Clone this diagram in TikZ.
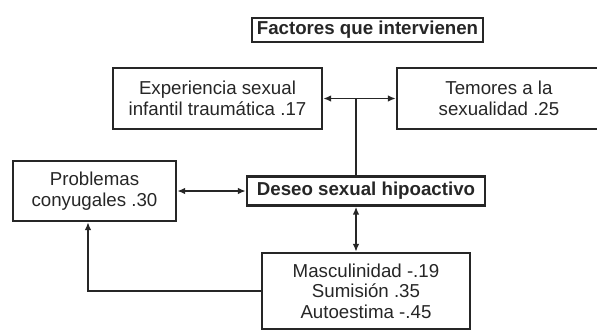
\documentclass[tikz,border=0pt]{standalone}
\usepackage{fontspec}
\setmainfont{Liberation Sans}
\usetikzlibrary{arrows.meta}
\begin{document}
\begin{tikzpicture}[x=1pt,y=-1pt,
  box/.style={draw=black!85,line width=2.3pt,inner sep=0pt,align=center,
    font=\fontsize{18.7}{21.5}\selectfont,text=black!85},
  conn/.style={draw=black!85,line width=1.6pt},
  tip/.style={-{Latex[length=8pt,width=6.5pt]}},
  tips/.style={{Latex[length=8pt,width=6.5pt]}-{Latex[length=8pt,width=6.5pt]}}]
\useasboundingbox (0,0) rectangle (597,330);
\node[box,line width=2.6pt,minimum width=231pt,minimum height=24pt,font=\fontsize{18.7}{21.5}\selectfont\bfseries] (title) at (367.5,30) {Factores que intervienen};
\node[box,minimum width=209pt,minimum height=61pt] (exp) at (217.5,98.5) {Experiencia sexual\\infantil traumática .17};
\node[box,minimum width=204pt,minimum height=61pt] (tem) at (499,98.5) {Temores a la\\sexualidad .25};
\node[box,minimum width=163pt,minimum height=60pt] (prob) at (94.5,191) {Problemas\\conyugales .30};
\node[box,minimum width=238pt,minimum height=29pt,font=\fontsize{18.7}{21.5}\selectfont\bfseries] (deseo) at (366,191) {Deseo sexual hipoactivo};
\node[box,minimum width=208pt,minimum height=76pt,font=\fontsize{18.7}{20.5}\selectfont] (bot) at (366,291) {Masculinidad -.19\\Sumisión .35\\Autoestima -.45};
\coordinate (j) at (356,98.5);
\coordinate (k) at (88,221);
\draw[conn,tips] (exp.east) -- (tem.west);
\draw[conn] (j) -- (j |- deseo.north);
\draw[conn,tips] (prob.east) -- (deseo.west);
\draw[conn,tips] (j |- deseo.south) -- (j |- bot.north);
\draw[conn,tip] (bot.west) -| (k |- prob.south);
\end{tikzpicture}
\end{document}
